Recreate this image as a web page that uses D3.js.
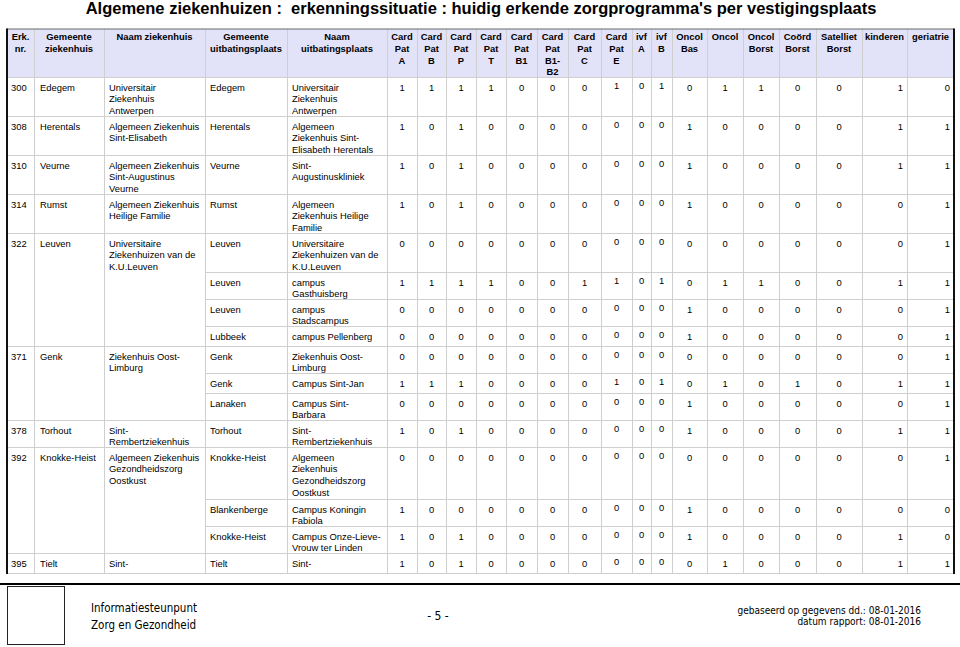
<!DOCTYPE html>
<html>
<head>
<meta charset="utf-8">
<script src="https://cdn.jsdelivr.net/npm/d3@7"></script>
<style>
  body { margin: 0; background: #fff; }
  svg { display: block; }
</style>
</head>
<body>
<div id="chart"></div>
<script>
// Width and height
var w = 960;
var h = 647;

// header of the value columns (zorgprogramma's)
var programs = ["Card\nPat\nA", "Card\nPat\nB", "Card\nPat\nP", "Card\nPat\nT", "Card\nPat\nB1",
                "Card\nPat\nB1-\nB2", "Card\nPat\nC", "Card\nPat\nE", "ivf\nA", "ivf\nB",
                "Oncol\nBas", "Oncol", "Oncol\nBorst", "Coörd\nBorst", "Satelliet\nBorst",
                "kinderen", "geriatrie"];

// ziekenhuizen (one per erkenning)
var erkNr = ["300", "308", "310", "314", "322", "371", "378", "392", "395"];
var gemeenteZh = ["Edegem", "Herentals", "Veurne", "Rumst", "Leuven", "Genk", "Torhout", "Knokke-Heist", "Tielt"];
var naamZh = ["Universitair\nZiekenhuis\nAntwerpen", "Algemeen Ziekenhuis\nSint-Elisabeth",
              "Algemeen Ziekenhuis\nSint-Augustinus\nVeurne", "Algemeen Ziekenhuis\nHeilige Familie",
              "Universitaire\nZiekenhuizen van de\nK.U.Leuven", "Ziekenhuis Oost-\nLimburg",
              "Sint-\nRembertziekenhuis", "Algemeen Ziekenhuis\nGezondheidszorg\nOostkust", "Sint-"];
var vestigingen = [1, 1, 1, 1, 4, 3, 1, 3, 1];

// uitbatingsplaatsen
var gemeenteUitb = ["Edegem", "Herentals", "Veurne", "Rumst", "Leuven", "Leuven", "Leuven", "Lubbeek",
                    "Genk", "Genk", "Lanaken", "Torhout", "Knokke-Heist", "Blankenberge", "Knokke-Heist", "Tielt"];
var naamUitb = ["Universitair\nZiekenhuis\nAntwerpen", "Algemeen\nZiekenhuis Sint-\nElisabeth Herentals",
                "Sint-\nAugustinuskliniek", "Algemeen\nZiekenhuis Heilige\nFamilie",
                "Universitaire\nZiekenhuizen van de\nK.U.Leuven", "campus\nGasthuisberg", "campus\nStadscampus",
                "campus Pellenberg", "Ziekenhuis Oost-\nLimburg", "Campus Sint-Jan", "Campus Sint-\nBarbara",
                "Sint-\nRembertziekenhuis", "Algemeen\nZiekenhuis\nGezondheidszorg\nOostkust",
                "Campus Koningin\nFabiola", "Campus Onze-Lieve-\nVrouw ter Linden", "Sint-"];

// erkend (1) or not (0), one row per uitbatingsplaats
var erkend = [
  [1, 1, 1, 1, 0, 0, 0, 1, 0, 1, 0, 1, 1, 0, 0, 1, 0],
  [1, 0, 1, 0, 0, 0, 0, 0, 0, 0, 1, 0, 0, 0, 0, 1, 1],
  [1, 0, 1, 0, 0, 0, 0, 0, 0, 0, 1, 0, 0, 0, 0, 1, 1],
  [1, 0, 1, 0, 0, 0, 0, 0, 0, 0, 1, 0, 0, 0, 0, 0, 1],
  [0, 0, 0, 0, 0, 0, 0, 0, 0, 0, 0, 0, 0, 0, 0, 0, 1],
  [1, 1, 1, 1, 0, 0, 1, 1, 0, 1, 0, 1, 1, 0, 0, 1, 1],
  [0, 0, 0, 0, 0, 0, 0, 0, 0, 0, 1, 0, 0, 0, 0, 0, 1],
  [0, 0, 0, 0, 0, 0, 0, 0, 0, 0, 1, 0, 0, 0, 0, 0, 1],
  [0, 0, 0, 0, 0, 0, 0, 0, 0, 0, 0, 0, 0, 0, 0, 0, 1],
  [1, 1, 1, 0, 0, 0, 0, 1, 0, 1, 0, 1, 0, 1, 0, 1, 1],
  [0, 0, 0, 0, 0, 0, 0, 0, 0, 0, 1, 0, 0, 0, 0, 0, 1],
  [1, 0, 1, 0, 0, 0, 0, 0, 0, 0, 1, 0, 0, 0, 0, 1, 1],
  [0, 0, 0, 0, 0, 0, 0, 0, 0, 0, 0, 0, 0, 0, 0, 0, 1],
  [1, 0, 0, 0, 0, 0, 0, 0, 0, 0, 1, 0, 0, 0, 0, 0, 0],
  [1, 0, 1, 0, 0, 0, 0, 0, 0, 0, 1, 0, 0, 0, 0, 1, 0],
  [1, 0, 1, 0, 0, 0, 0, 0, 0, 0, 0, 1, 0, 0, 0, 1, 1]
];

// layout
var textCols = ["Erk.\nnr.", "Gemeente\nziekenhuis", "Naam ziekenhuis", "Gemeente\nuitbatingsplaats", "Naam\nuitbatingsplaats"];
var colEdges = [7, 34, 104, 205, 287, 387, 417, 446, 476, 506, 537, 568, 601, 632, 651, 672, 707, 743, 779, 816, 862, 907, 954];
var rightAligned = ["kinderen", "geriatrie"];
var raisedCols = ["Card\nPat\nE", "ivf\nA", "ivf\nB"];
var headTop = 29, headBottom = 77;
var lineH = 11.8;
var rowHeights = [0, 20, 27, 39, 52];
var font = "Liberation Sans, Arial, sans-serif";
var fs = "9.4px";

var allCols = textCols.concat(programs);
var x = d3.scaleOrdinal().domain(allCols).range(colEdges.slice(0, -1));
var cw = d3.scaleOrdinal().domain(allCols).range(d3.range(allCols.length).map(function(i) {
  return colEdges[i + 1] - colEdges[i];
}));

function nLines(s) { return s.split("\n").length; }

// subrow -> group index
var groupOf = [];
vestigingen.forEach(function(n, g) { for (var k = 0; k < n; k++) groupOf.push(g); });
var firstOf = [];
var acc = 0;
vestigingen.forEach(function(n) { firstOf.push(acc); acc += n; });

var heights = naamUitb.map(function(d, i) {
  var g = groupOf[i];
  var lines = Math.max(nLines(d), nLines(gemeenteUitb[i]));
  if (firstOf[g] === i && vestigingen[g] === 1) lines = Math.max(lines, nLines(naamZh[g]));
  return rowHeights[lines];
});
var tops = [];
var yy = headBottom;
heights.forEach(function(hh) { tops.push(yy); yy += hh; });
var tableBottom = yy;
var y = d3.scaleOrdinal().domain(d3.range(naamUitb.length)).range(tops);

// Create SVG element
var svg = d3.select("#chart")
            .append("svg")
            .attr("width", w)
            .attr("height", h);

// title
svg.append("text")
   .attr("x", 481)
   .attr("y", 14)
   .attr("text-anchor", "middle")
   .attr("font-family", font)
   .attr("font-weight", "bold")
   .attr("font-size", "16.5px")
   .attr("fill", "#000")
   .text("Algemene ziekenhuizen :  erkenningssituatie : huidig erkende zorgprogramma's per vestigingsplaats")
   .style("white-space", "pre");

// header background
svg.append("rect")
   .attr("x", colEdges[0])
   .attr("y", headTop)
   .attr("width", colEdges[colEdges.length - 1] - colEdges[0])
   .attr("height", headBottom - headTop)
   .attr("fill", "#e2e2f8");

function multiline(sel, txt, x0, y0, anchor) {
  var t = sel.append("text")
             .attr("text-anchor", anchor)
             .attr("font-family", font)
             .attr("font-size", fs)
             .attr("fill", "#000");
  txt.split("\n").forEach(function(line, i) {
    t.append("tspan").attr("x", x0).attr("y", y0 + i * lineH).text(line);
  });
  return t;
}

// header labels
var head = svg.append("g");
allCols.forEach(function(c) {
  multiline(head, c, x(c) + cw(c) / 2, headTop + 11, "middle").attr("font-weight", "bold");
});

// grid lines
var grid = svg.append("g").attr("stroke", "#cfcfcf").attr("stroke-width", 1);

// vertical lines
grid.selectAll("line.v")
    .data(colEdges.slice(1, -1))
    .enter()
    .append("line")
    .attr("x1", function(d) { return d + 0.5; })
    .attr("x2", function(d) { return d + 0.5; })
    .attr("y1", headTop)
    .attr("y2", tableBottom);

// horizontal lines
var rowIdx = d3.range(naamUitb.length);
grid.selectAll("line.h")
    .data(rowIdx)
    .enter()
    .append("line")
    .attr("x1", function(i) {
      return firstOf.indexOf(i) >= 0 ? colEdges[0] : x(textCols[3]);
    })
    .attr("x2", colEdges[colEdges.length - 1])
    .attr("y1", function(i) { return y(i) + 0.5; })
    .attr("y2", function(i) { return y(i) + 0.5; });

grid.append("line")
    .attr("x1", colEdges[0]).attr("x2", colEdges[colEdges.length - 1])
    .attr("y1", tableBottom + 0.5).attr("y2", tableBottom + 0.5);

// outer borders
svg.append("line")
   .attr("x1", colEdges[0]).attr("x2", colEdges[colEdges.length - 1])
   .attr("y1", headTop).attr("y2", headTop)
   .attr("stroke", "#6a6a6a").attr("stroke-width", 1.2);
svg.append("line")
   .attr("x1", colEdges[0]).attr("x2", colEdges[0])
   .attr("y1", headTop - 0.6).attr("y2", tableBottom + 1)
   .attr("stroke", "#111").attr("stroke-width", 2);
svg.append("line")
   .attr("x1", colEdges[colEdges.length - 1]).attr("x2", colEdges[colEdges.length - 1])
   .attr("y1", headTop - 0.6).attr("y2", tableBottom + 1)
   .attr("stroke", "#111").attr("stroke-width", 2);

// ziekenhuis columns (spanning)
var body = svg.append("g");
erkNr.forEach(function(nr, g) {
  var top = y(firstOf[g]) + 13.5;
  multiline(body, nr, x(textCols[0]) + 4, top, "start");
  multiline(body, gemeenteZh[g], x(textCols[1]) + 6, top, "start");
  multiline(body, naamZh[g], x(textCols[2]) + 5, top, "start");
});

// uitbatingsplaats columns
rowIdx.forEach(function(i) {
  var top = y(i) + 13.5;
  multiline(body, gemeenteUitb[i], x(textCols[3]) + 5, top, "start");
  multiline(body, naamUitb[i], x(textCols[4]) + 5, top, "start");
});

// values
var cells = [];
erkend.forEach(function(row, i) {
  row.forEach(function(v, j) { cells.push({ row: i, col: programs[j], v: v }); });
});
body.selectAll("text.val")
    .data(cells)
    .enter()
    .append("text")
    .attr("class", "val")
    .attr("font-family", font)
    .attr("font-size", fs)
    .attr("fill", "#000")
    .attr("text-anchor", function(d) { return rightAligned.indexOf(d.col) >= 0 ? "end" : "middle"; })
    .attr("x", function(d) {
      return rightAligned.indexOf(d.col) >= 0 ? x(d.col) + cw(d.col) - 4 : x(d.col) + cw(d.col) / 2;
    })
    .attr("y", function(d) { return y(d.row) + (raisedCols.indexOf(d.col) >= 0 ? 12 : 14); })
    .text(function(d) { return d.v; });

// footer
svg.append("line")
   .attr("x1", 0).attr("x2", w)
   .attr("y1", 584).attr("y2", 584)
   .attr("stroke", "#000").attr("stroke-width", 2);
svg.append("rect")
   .attr("x", 7.5).attr("y", 586.5)
   .attr("width", 57).attr("height", 58)
   .attr("fill", "none").attr("stroke", "#222").attr("stroke-width", 1);

var foot = svg.append("g").attr("font-family", "DejaVu Sans Condensed, DejaVu Sans, sans-serif").attr("fill", "#000");
foot.append("text").attr("x", 91).attr("y", 612).attr("font-size", "11.5px").text("Informatiesteunpunt");
foot.append("text").attr("x", 91).attr("y", 629).attr("font-size", "11.5px").text("Zorg en Gezondheid");
foot.append("text").attr("x", 438).attr("y", 620).attr("text-anchor", "middle").attr("font-size", "12px").text("- 5 -");

var foot2 = svg.append("g").attr("font-family", "Liberation Sans Narrow, DejaVu Sans Condensed, sans-serif")
               .attr("font-size", "10px").attr("text-anchor", "end").attr("fill", "#000");
foot2.append("text").attr("x", 921).attr("y", 614).text("gebaseerd op gegevens dd.: 08-01-2016");
foot2.append("text").attr("x", 921).attr("y", 625).text("datum rapport: 08-01-2016");
</script>
</body>
</html>
